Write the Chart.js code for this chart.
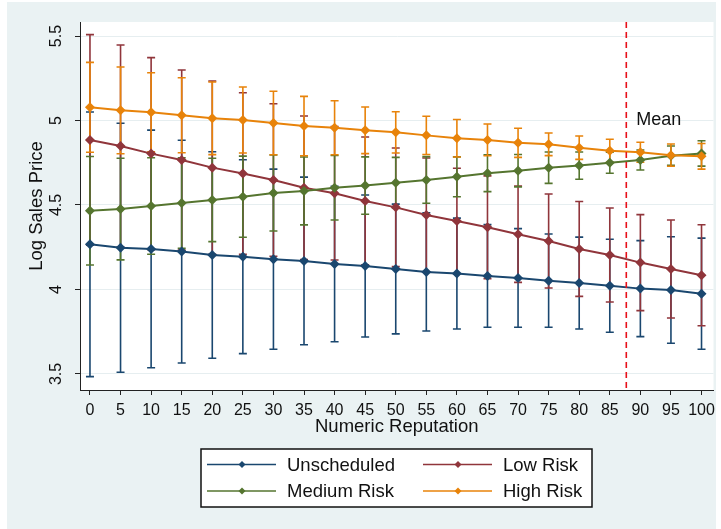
<!DOCTYPE html>
<html lang="en">
<head>
<meta charset="UTF-8">
<title>Log Sales Price by Numeric Reputation</title>
<script src="https://cdn.jsdelivr.net/npm/chart.js"></script>
<style>
  body { margin: 0; background: #fff; }
  #wrap { width: 721px; height: 529px; }
</style>
</head>
<body>
<div id="wrap"><canvas id="canvas" width="721" height="529"></canvas></div>
<script>
// x categories (numeric reputation)
const reputation = [0, 5, 10, 15, 20, 25, 30, 35, 40, 45, 50, 55, 60, 65, 70, 75, 80, 85, 90, 95, 100];
const seriesNames = ['Unscheduled', 'Low Risk', 'Medium Risk', 'High Risk'];

// predicted log sales price and CI bounds
const unscheduled   = [4.267, 4.247, 4.240, 4.224, 4.204, 4.194, 4.179, 4.169, 4.151, 4.139, 4.121, 4.104, 4.094, 4.080, 4.068, 4.052, 4.038, 4.022, 4.005, 3.997, 3.975];
const unscheduledLo = [3.484, 3.510, 3.537, 3.565, 3.593, 3.620, 3.646, 3.673, 3.691, 3.719, 3.737, 3.754, 3.766, 3.776, 3.776, 3.776, 3.766, 3.747, 3.721, 3.682, 3.646];
const unscheduledHi = [5.050, 4.984, 4.943, 4.883, 4.815, 4.768, 4.712, 4.665, 4.611, 4.559, 4.505, 4.454, 4.422, 4.384, 4.360, 4.328, 4.310, 4.297, 4.289, 4.312, 4.304];

const lowRisk   = [4.885, 4.849, 4.804, 4.766, 4.721, 4.686, 4.648, 4.602, 4.569, 4.524, 4.486, 4.441, 4.405, 4.368, 4.327, 4.287, 4.240, 4.204, 4.159, 4.121, 4.084];
const lowRiskLo = [4.262, 4.251, 4.236, 4.233, 4.208, 4.208, 4.197, 4.177, 4.174, 4.146, 4.135, 4.104, 4.093, 4.064, 4.042, 4.009, 3.959, 3.926, 3.875, 3.831, 3.785];
const lowRiskHi = [5.508, 5.447, 5.372, 5.299, 5.234, 5.164, 5.099, 5.027, 4.964, 4.902, 4.837, 4.778, 4.717, 4.672, 4.612, 4.565, 4.521, 4.482, 4.443, 4.411, 4.383];

const mediumRisk   = [4.466, 4.476, 4.494, 4.512, 4.530, 4.549, 4.571, 4.583, 4.602, 4.615, 4.632, 4.648, 4.667, 4.688, 4.703, 4.721, 4.733, 4.750, 4.766, 4.792, 4.805];
const mediumRiskLo = [4.145, 4.175, 4.208, 4.244, 4.283, 4.309, 4.346, 4.382, 4.411, 4.445, 4.482, 4.510, 4.549, 4.579, 4.607, 4.628, 4.652, 4.688, 4.707, 4.735, 4.730];
const mediumRiskHi = [4.787, 4.777, 4.780, 4.780, 4.777, 4.789, 4.796, 4.784, 4.793, 4.785, 4.782, 4.786, 4.785, 4.797, 4.799, 4.814, 4.814, 4.812, 4.825, 4.849, 4.880];

const highRisk   = [5.078, 5.060, 5.049, 5.031, 5.013, 5.003, 4.985, 4.967, 4.957, 4.942, 4.930, 4.912, 4.895, 4.885, 4.868, 4.859, 4.839, 4.821, 4.812, 4.795, 4.788];
const highRiskLo = [4.812, 4.803, 4.815, 4.809, 4.798, 4.808, 4.797, 4.791, 4.797, 4.804, 4.808, 4.799, 4.784, 4.791, 4.782, 4.792, 4.770, 4.753, 4.753, 4.729, 4.712];
const highRiskHi = [5.344, 5.317, 5.283, 5.253, 5.228, 5.198, 5.173, 5.143, 5.117, 5.080, 5.052, 5.025, 5.006, 4.979, 4.954, 4.926, 4.908, 4.889, 4.871, 4.861, 4.864];

const yTicks = [3.5, 4, 4.5, 5, 5.5];
const meanReputation = 87.7;
const meanLabel = 'Mean';
const meanLabelY = 5;

const means = [unscheduled, lowRisk, mediumRisk, highRisk];
const lows = [unscheduledLo, lowRiskLo, mediumRiskLo, highRiskLo];
const highs = [unscheduledHi, lowRiskHi, mediumRiskHi, highRiskHi];
const colors = ['#1a476f', '#90353b', '#55752f', '#e8830a'];

const textColor = '#111';
Chart.defaults.font.family = "'Liberation Sans', Arial, sans-serif";

// stata-ish background: light frame, white plot region
const backdrop = {
    id: 'backdrop',
    beforeDraw(chart) {
        const { ctx, chartArea: a } = chart;
        ctx.save();
        ctx.fillStyle = '#fff';
        ctx.fillRect(0, 0, chart.width, chart.height);
        ctx.fillStyle = '#eaf2f3';
        ctx.fillRect(7, 2, 709, 527);
        ctx.fillStyle = '#fff';
        ctx.fillRect(a.left, a.top, a.right - a.left, a.bottom - a.top);
        ctx.restore();
    }
};

// capped error bars (rcap)
const errorBars = {
    id: 'errorBars',
    beforeDatasetsDraw(chart) {
        const { ctx, scales: { x, y } } = chart;
        ctx.save();
        ctx.lineWidth = 1.6;
        for (let s = 0; s < means.length; s++) {
            ctx.strokeStyle = colors[s];
            for (let i = 0; i < reputation.length; i++) {
                const px = x.getPixelForValue(reputation[i]);
                const lo = y.getPixelForValue(lows[s][i]);
                const hi = y.getPixelForValue(highs[s][i]);
                ctx.beginPath();
                ctx.moveTo(px, lo); ctx.lineTo(px, hi);
                ctx.moveTo(px - 4, lo); ctx.lineTo(px + 4, lo);
                ctx.moveTo(px - 4, hi); ctx.lineTo(px + 4, hi);
                ctx.stroke();
            }
        }
        ctx.restore();
    }
};

// dashed vertical line at the mean reputation
const meanLine = {
    id: 'meanLine',
    afterDatasetsDraw(chart) {
        const { ctx, chartArea: a, scales: { x, y } } = chart;
        const px = x.getPixelForValue(meanReputation);
        ctx.save();
        ctx.strokeStyle = '#e8101a';
        ctx.lineWidth = 1.6;
        ctx.setLineDash([6, 4]);
        ctx.beginPath();
        ctx.moveTo(px, a.top); ctx.lineTo(px, a.bottom);
        ctx.stroke();
        ctx.setLineDash([]);
        ctx.fillStyle = textColor;
        ctx.font = "18px 'Liberation Sans', Arial, sans-serif";
        ctx.textBaseline = 'middle';
        ctx.fillText(meanLabel, px + 10, y.getPixelForValue(meanLabelY));
        ctx.restore();
    }
};

// boxed two-column legend under the plot
const boxLegend = {
    id: 'boxLegend',
    afterDraw(chart) {
        const ctx = chart.ctx;
        ctx.save();
        ctx.fillStyle = '#fff';
        ctx.fillRect(201, 449, 391, 58);
        ctx.strokeStyle = '#111';
        ctx.lineWidth = 1.5;
        ctx.strokeRect(201, 449, 391, 58);
        const cols = [207, 423];
        const rows = [464.5, 491];
        ctx.font = "18.5px 'Liberation Sans', Arial, sans-serif";
        ctx.textBaseline = 'middle';
        seriesNames.forEach((name, i) => {
            const lx = cols[i % 2], ly = rows[Math.floor(i / 2)];
            ctx.strokeStyle = colors[i];
            ctx.lineWidth = 1.5;
            ctx.beginPath();
            ctx.moveTo(lx, ly); ctx.lineTo(lx + 69, ly);
            ctx.stroke();
            ctx.fillStyle = colors[i];
            ctx.beginPath();
            ctx.moveTo(lx + 35, ly - 3.5); ctx.lineTo(lx + 38.5, ly);
            ctx.lineTo(lx + 35, ly + 3.5); ctx.lineTo(lx + 31.5, ly);
            ctx.closePath(); ctx.fill();
            ctx.fillStyle = textColor;
            ctx.fillText(name, lx + 80, ly + 1);
        });
        ctx.restore();
    }
};

const datasets = seriesNames.map((name, s) => ({
    label: name,
    data: reputation.map((r, i) => ({ x: r, y: means[s][i] })),
    borderColor: colors[s],
    backgroundColor: colors[s],
    borderWidth: 2,
    pointStyle: 'rectRot',
    pointRadius: 5,
    pointBorderWidth: 0,
    tension: 0,
    order: 3 - s
}));

new Chart(document.getElementById('canvas'), {
    type: 'line',
    data: { datasets: datasets },
    plugins: [backdrop, errorBars, meanLine, boxLegend],
    options: {
        responsive: false,
        animation: false,
        layout: { padding: { left: 0, top: 22, right: 7, bottom: 0 } },
        plugins: { legend: { display: false }, tooltip: { enabled: false } },
        scales: {
            x: {
                type: 'linear',
                min: -1.63,
                max: 101.96,
                afterBuildTicks: s => { s.ticks = reputation.map(v => ({ value: v })); },
                afterFit: s => { s.height = 139; },
                grid: { drawOnChartArea: false, tickLength: 5, tickColor: '#222', tickWidth: 1 },
                border: { color: '#222', width: 1 },
                ticks: { color: textColor, font: { size: 16 }, padding: 6, maxRotation: 0, autoSkip: false, callback: v => String(v) },
                title: { display: true, text: 'Numeric Reputation', color: textColor, font: { size: 18.5 }, padding: { top: 0, bottom: 91 } }
            },
            y: {
                min: 3.405,
                max: 5.583,
                afterBuildTicks: s => { s.ticks = yTicks.map(v => ({ value: v })); },
                afterFit: s => { s.width = 80; },
                grid: { color: '#e6eef0', lineWidth: 1, tickLength: 5, tickColor: '#222', tickWidth: 1 },
                border: { color: '#222', width: 1 },
                ticks: { color: textColor, font: { size: 16 }, padding: 7, minRotation: 90, maxRotation: 90, crossAlign: 'center', callback: v => String(v) },
                title: { display: true, text: 'Log Sales Price', color: textColor, font: { size: 18.5 }, padding: { top: 26, bottom: 0 } }
            }
        }
    }
});
</script>
</body>
</html>
